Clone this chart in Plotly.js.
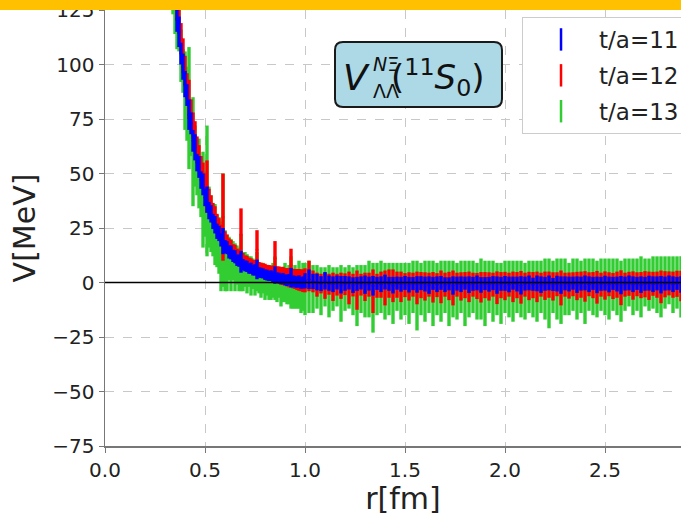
<!DOCTYPE html>
<html>
<head>
<meta charset="utf-8">
<script src="https://cdn.plot.ly/plotly-3.0.1.min.js"></script>
<style>
html,body{margin:0;padding:0;overflow:hidden;background:#fff;}
#wrap{position:relative;width:681px;height:516px;overflow:hidden;}
#chart{position:absolute;left:0;top:0;width:701px;height:516px;}
#band{position:absolute;left:0;top:0;width:681px;height:10px;background:#ffc000;z-index:10;}
</style>
</head>
<body>
<div id="wrap"><div id="chart"></div><div id="band"></div></div>
<script>
// r [fm]
const r = [
0.30,0.32,0.34,0.35,0.36,0.37,0.38,0.39,0.40,0.41,
0.42,0.43,0.44,0.45,0.46,0.47,0.48,0.49,0.50,0.51,
0.52,0.53,0.54,0.55,0.56,0.57,0.58,0.59,0.60,0.61,
0.62,0.63,0.64,0.65,0.66,0.67,0.68,0.69,0.70,0.71,
0.72,0.73,0.74,0.75,0.76,0.77,0.78,0.79,0.80,0.81,
0.82,0.83,0.84,0.85,0.86,0.87,0.88,0.89,0.90,0.91,
0.92,0.93,0.94,0.95,0.96,0.97,0.98,0.99,1.00,
1.02,1.04,1.06,1.08,1.10,1.12,1.14,1.16,1.18,1.20,
1.22,1.24,1.26,1.28,1.30,1.32,1.34,1.36,1.38,1.40,
1.42,1.44,1.46,1.48,1.50,1.52,1.54,1.56,1.58,1.60,
1.62,1.64,1.66,1.68,1.70,1.72,1.74,1.76,1.78,1.80,
1.82,1.84,1.86,1.88,1.90,1.92,1.94,1.96,1.98,2.00,
2.02,2.04,2.06,2.08,2.10,2.12,2.14,2.16,2.18,2.20,
2.22,2.24,2.26,2.28,2.30,2.32,2.34,2.36,2.38,2.40,
2.42,2.44,2.46,2.48,2.50,2.52,2.54,2.56,2.58,2.60,
2.62,2.64,2.66,2.68,2.70,2.72,2.74,2.76,2.78,2.80,
2.82,2.84,2.86,2.88,2.90];

// t/a = 11 (blue)
const v11 = [
190,160,140,131,121,115,105,99,91,86,
77,73,65,62,55,53,47,45,39,38,
33,31.5,28,26.5,23.5,22.5,19.5,19,16.5,16,
14,13.8,12.2,11.8,10.2,10,9.5,8.2,7.6,7.4,
6.4,6.6,5.6,5.8,6.0,4.6,4.4,4.2,3.6,3.4,
3.0,3.2,2.6,3.4,2.2,2.0,1.6,1.8,1.2,1.0,
1.4,2.2,0.6,0.4,0.2,0.5,-0.2,0.0,0.8,
1.5,0.5,0.2,-0.5,0.8,-0.3,-0.8,0.0,-1.0,-0.4,
-0.2,-1.2,-0.6,-0.2,-1.0,-0.5,-1.5,-0.4,-0.8,0.2,
-0.6,-1.2,-0.3,-0.8,-0.2,-1.0,-0.5,-0.9,-0.3,-0.7,
-1.2,-0.4,-0.8,-0.2,-1.0,-0.6,-1.4,-0.5,-0.8,-0.3,
-1.0,-0.6,-0.2,-1.1,-0.5,-0.8,-0.3,-1.2,-0.6,-0.4,
-0.9,-0.3,-0.7,-1.3,-0.5,-0.2,-0.8,-0.4,-1.0,-0.6,
-0.2,-0.9,-0.5,-1.2,-0.4,-0.7,-0.3,-1.0,-0.5,-0.2,
-0.8,-0.4,-1.1,-0.6,-0.3,-0.9,-0.4,-0.7,-1.2,-0.5,
-0.2,-0.8,-0.4,-1.0,-0.6,-0.3,-0.8,-0.4,-1.0,-0.5,
-0.2,-0.8,-0.4,-0.9,-0.5];
const e11 = [
8,8,7,6,6,7,5,6,6,5,
7,5,5,6,4,5,4,5,4,6,
4,4,3.5,4,3.5,3.5,3,6,3,3,
3,3.2,2.8,3,2.6,2.8,5,2.6,2.5,2.6,
2.4,2.5,2.4,2.6,4.5,2.4,2.4,2.3,2.4,2.5,
2.3,2.4,2.5,4,2.4,2.5,2.4,2.6,2.5,2.6,
2.5,4.5,2.6,2.7,2.6,2.8,2.7,2.8,3.5,
4.5,3.5,3.8,3.4,4.0,3.5,3.6,3.2,4.0,3.4,
3.0,3.6,3.2,3.0,4.2,3.2,4.5,3.0,3.6,3.4,
3.2,3.8,3.0,3.4,3.2,3.6,3.0,3.8,3.2,3.4,
4.0,3.0,3.6,3.2,3.4,3.0,4.2,3.2,3.6,3.0,
3.8,3.2,3.4,3.6,3.0,3.4,3.2,4.0,3.2,3.4,
3.6,3.0,3.4,4.2,3.2,3.4,3.0,3.6,3.8,3.2,
3.4,3.0,3.6,4.0,3.2,3.4,3.0,3.8,3.2,3.4,
3.6,3.0,3.8,3.2,3.4,3.6,3.0,3.4,4.2,3.2,
3.4,3.6,3.0,3.8,3.2,3.4,3.6,3.2,4.0,3.2,
3.4,3.6,3.0,3.8,3.2];

// t/a = 12 (red)
const v12 = [
200,170,148,138,128,121,112,104,97,90,
84,78,72,67,61,57,53,49,45,44,
38,35,32,30,27,25,22.5,30,19.5,18,
16.5,15.5,14,13.5,12,11.5,22,10,9,8.8,
8,7.6,7,6.8,15,6,5.6,5.4,5,4.6,
4.4,4.2,4,11,3.6,3.4,3,3,2.6,2.4,
2.2,8,1.8,1.6,1.4,1.2,1,0.8,1,
3.0,0.5,-1.0,-0.5,-1.5,-0.8,-2.0,-1.0,-1.5,-0.8,
-2.5,-1.2,-3.5,-1.0,-2.0,-1.0,-4.0,-1.5,-1.0,-2.5,
-0.5,-1.5,-1.0,-2.0,-1.2,-1.8,-1.0,-2.5,-1.2,-1.8,
-1.0,-2.2,-1.2,-2.0,-1.0,-1.6,-2.5,-1.0,-1.8,-1.2,
-2.0,-1.0,-1.6,-2.2,-1.2,-1.8,-1.0,-2.4,-1.2,-1.6,
-1.0,-2.0,-1.2,-2.2,-1.0,-1.6,-1.2,-2.0,-1.0,-1.5,
-1.0,-1.8,-0.8,-2.5,-1.0,-1.4,-0.8,-1.6,-1.0,-1.8,
-0.8,-1.2,-2.2,-1.0,-1.4,-0.8,-1.6,-1.0,-2.4,-1.0,
-0.6,-1.4,-0.8,-1.2,-0.8,-1.5,-0.6,-1.0,-2.0,-0.8,
-0.4,-1.0,-0.6,-1.6,-0.6];
const e12 = [
9,9,8,7,8,7,7,8,7,6,
9,6,6,7,6,6,5,6,5,12,
5,5,4.5,5,4.5,4.5,4,20,4,4,
3.8,4,3.6,3.8,3.5,3.6,12,3.5,3.4,3.5,
3.4,3.5,3.4,3.5,9,3.4,3.5,3.4,3.6,3.5,
3.6,3.5,3.8,8,3.8,4,4,4.2,4,4.2,
4.4,7.5,4.5,4.6,4.8,5,5,5.2,5.5,
7.0,5.0,5.5,4.5,6.0,4.8,6.5,5.0,6.0,5.0,
7.5,5.2,9.0,5.0,6.5,5.5,10.0,5.5,6.0,8.0,
6.5,7.5,6.0,7.0,5.5,6.5,5.5,7.5,6.0,6.5,
5.5,7.0,5.5,7.5,5.5,6.5,8.0,5.5,6.5,6.0,
7.0,5.5,6.0,7.0,6.0,6.5,5.5,7.5,6.0,6.5,
5.5,7.0,6.0,7.5,5.5,6.5,6.0,7.0,5.5,6.5,
6.0,6.5,5.5,8.0,5.5,6.0,5.5,6.5,6.0,7.0,
5.5,6.0,7.5,5.5,6.5,5.5,6.0,6.0,8.0,5.5,
5.5,6.5,5.5,6.0,6.0,6.5,5.5,6.0,7.5,6.0,
5.5,6.0,6.0,7.0,6.0];

// t/a = 13 (green)
const v13 = [
190,160,138,128,119,116,104,97,88,82,
80,70,60,58,52,50,44,38,36,42,
30,27,24,22,19,17,12,24,10,9,
11,8,10,7,8,6,9,5,6,4,
5,3,4,2,5,2,1,2,0,1,
0,-1,1,2,-1,0,-2,-1,0,-2,
-1,0,-3,-2,-3,-1,-4,-2,-3,
-2,-3,-2,-4,-2,-4,-3,-2,-5,-3,
-2,-4,-6,-3,-4,-3,-7,-3,-2,-4,
-3,-5,-2,-4,-3,-5,-2,-6,-3,-4,
-2,-5,-3,-4,-2,-5,-3,-4,-2,-5,
-3,-2,-4,-3,-5,-2,-4,-3,-5,-2,
-3,-4,-2,-3,-4,-2,-3,-4,-2,-3,
-5,-2,-3,-4,-2,-3,-1,-3,-2,-4,
-1,-2,-3,-1,-2,-3,-1,-2,-4,-1,
0,-2,-1,-2,0,-1,0,-1,-2,0,
1,-1,0,-2,0];
const e13 = [
20,18,15,14,12,10,12,10,18,17,
28,12,25,14,12,16,14,22,15,30,
14,13,12,14,12,13,16,26,14,13,
10,12,9,11,9,10,13,9,8,9,
7,9,7,8,9,7,8,7,8,7,
8,7,8,10,8,7,9,8,9,8,
9,12,9,10,9,11,10,11,12,
12,11,10,11,9,12,10,9,13,10,
10,11,14,11,12,13,16,12,12,13,
12,14,11,13,12,14,12,16,12,14,
12,15,12,14,12,15,13,13,12,15,
13,12,13,14,15,12,14,12,14,12,
13,14,12,13,13,12,13,14,12,14,
16,12,14,15,13,12,12,14,12,15,
12,13,13,12,13,14,12,13,14,12,
11,13,12,14,11,12,12,13,14,12,
11,13,12,14,12];

const seriesNames = ['t/a=11','t/a=12','t/a=13'];
const seriesColors = ['#0000ff','#ff0000','#32cd32'];
const seriesV = [v11, v12, v13];
const seriesE = [e11, e12, e13];
const xTicks = [0.0,0.5,1.0,1.5,2.0,2.5];
const yTicks = [-75,-50,-25,0,25,50,75,100,125];

const traces = [];
// draw order: green, red, blue (blue on top)
[2,1,0].forEach(function(i){
  traces.push({
    type:'scatter', mode:'markers', x:r, y:seriesV[i],
    marker:{color:seriesColors[i], size:3},
    error_y:{type:'data', array:seriesE[i], visible:true, color:seriesColors[i], thickness:3.4, width:0},
    showlegend:false, hoverinfo:'skip'
  });
});
// legend entries
[0,1,2].forEach(function(i){
  traces.push({
    type:'scatter', mode:'markers', x:[null], y:[null], name:seriesNames[i],
    legendgroup:'g'+i,
    marker:{symbol:'line-ns-open', size:20, color:seriesColors[i], line:{color:seriesColors[i], width:2.5}}
  });
});

const f = 'DejaVu Sans, sans-serif';
const layout = {
  width:701, height:516,
  margin:{l:105, r:0, t:10, b:70},
  paper_bgcolor:'#ffffff', plot_bgcolor:'#ffffff',
  font:{family:f, color:'#222'},
  xaxis:{range:[0,2.98], tickvals:xTicks, ticktext:xTicks.map(v=>v.toFixed(1)),
    showline:true, linecolor:'#777', linewidth:1.5, mirror:true,
    ticks:'outside', ticklen:5, tickcolor:'#777', tickfont:{size:20, family:f, color:'#222'},
    showgrid:true, gridcolor:'#c8c8c8', griddash:'dash', gridwidth:1, zeroline:false,
    title:{text:'r[fm]', font:{size:30, family:f, color:'#222'}}},
  yaxis:{range:[-75,125], tickvals:yTicks, ticklabeloverflow:'allow',
    showline:true, linecolor:'#777', linewidth:1.5,
    ticks:'outside', ticklen:5, tickcolor:'#777', tickfont:{size:20, family:f, color:'#222'},
    showgrid:true, gridcolor:'#c8c8c8', griddash:'dash', gridwidth:1, zeroline:false,
    title:{text:'V[MeV]', font:{size:30, family:f, color:'#222'}}},
  legend:{x:0.6997, y:0.984, xanchor:'left', yanchor:'top', bgcolor:'#ffffff',
    bordercolor:'#cccccc', borderwidth:1, font:{size:23, family:f, color:'#222'},
    traceorder:'grouped', tracegroupgap:3, itemwidth:66},
  shapes:[
    {type:'line', xref:'paper', x0:0, x1:1, yref:'y', y0:0, y1:0, line:{color:'#000', width:1.5}, layer:'above'},
    {type:'path', xref:'paper', yref:'paper', layer:'above', fillcolor:'#add8e6',
     line:{color:'#1a1a1a', width:2},
     path:'M 0.3993 0.7775 L 0.6527 0.7775 Q 0.6661 0.7775 0.6661 0.7958 L 0.6661 0.9083 Q 0.6661 0.9266 0.6527 0.9266 L 0.3993 0.9266 Q 0.3859 0.9266 0.3859 0.9083 L 0.3859 0.7958 Q 0.3859 0.7775 0.3993 0.7775 Z'}
  ],
  annotations:[
    {xref:'paper', yref:'paper', x:0.4228, y:0.8463, text:'<i>V</i>', showarrow:false, xanchor:'center', yanchor:'middle', font:{size:36, family:f, color:'#111'}},
    {xref:'paper', yref:'paper', x:0.4715, y:0.8760, text:'<i>N</i>Ξ', showarrow:false, xanchor:'center', yanchor:'middle', font:{size:19, family:f, color:'#111'}},
    {xref:'paper', yref:'paper', x:0.4715, y:0.8150, text:'ΛΛ', showarrow:false, xanchor:'center', yanchor:'middle', font:{size:19, family:f, color:'#111'}},
    {xref:'paper', yref:'paper', x:0.5590, y:0.8463, text:'(<sup>11</sup><i>S</i><sub>0</sub>)', showarrow:false, xanchor:'center', yanchor:'middle', font:{size:34, family:f, color:'#111'}}
  ]
};
Plotly.newPlot('chart', traces, layout, {staticPlot:true, displayModeBar:false});
</script>
</body>
</html>
